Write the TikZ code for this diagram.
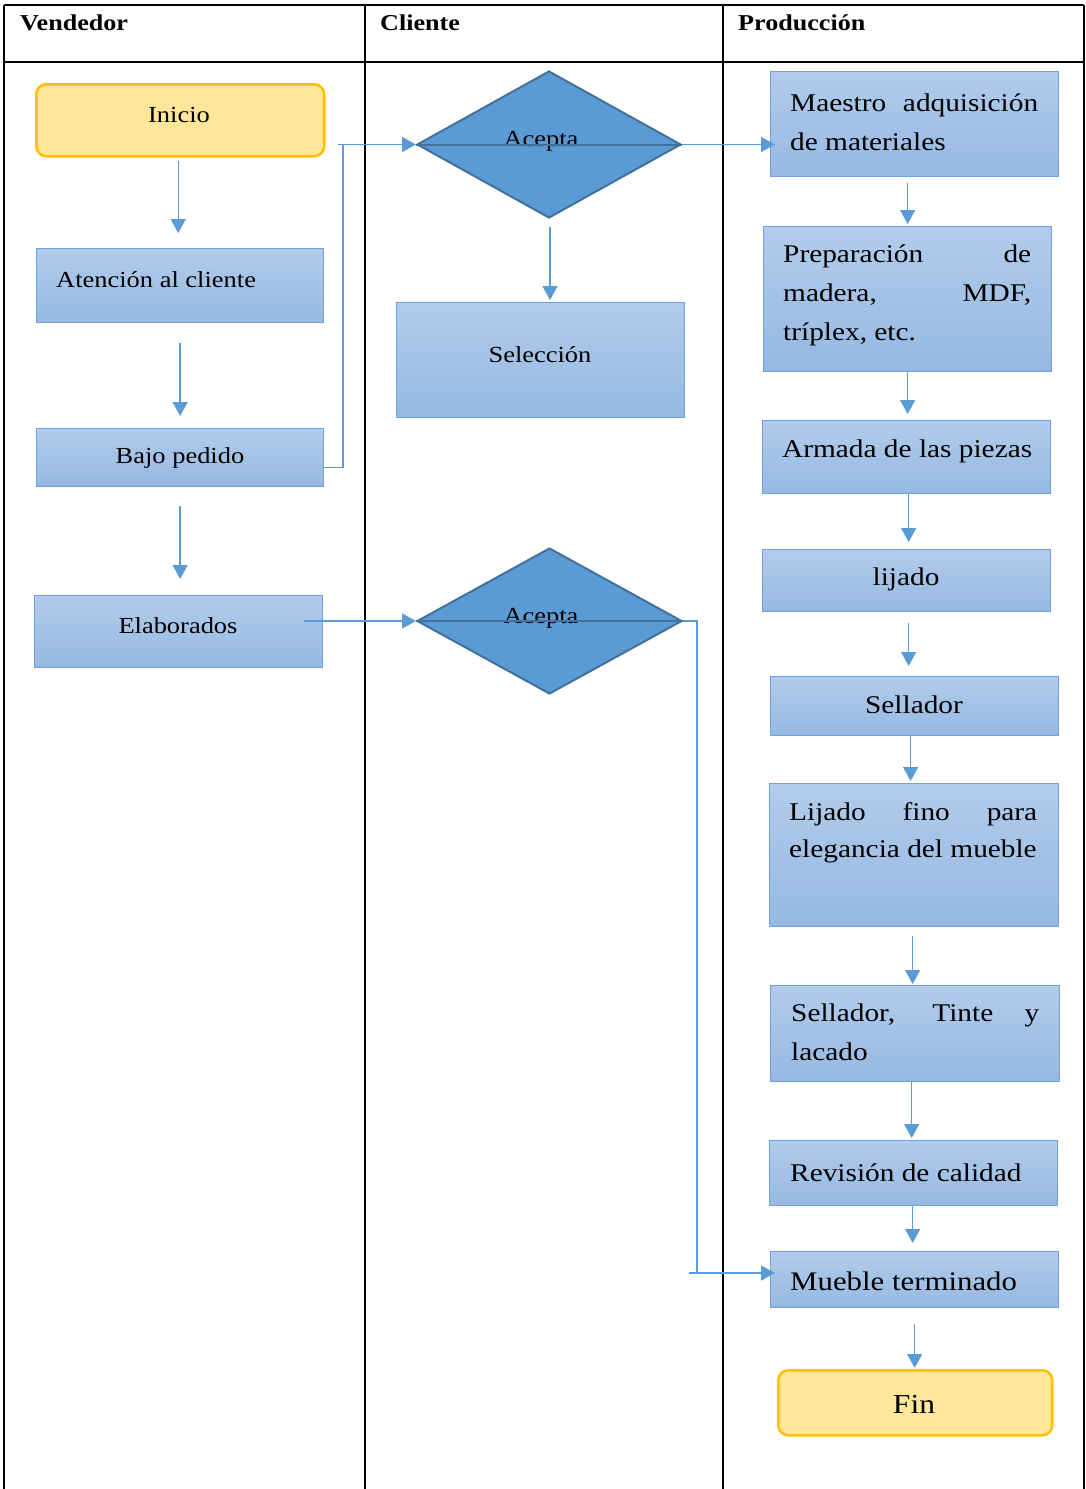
\documentclass[tikz,border=0pt]{standalone}
\usepackage{fontspec}
\setmainfont{Liberation Serif}[FakeStretch=1.15]
\usetikzlibrary{shapes.geometric,arrows.meta}

\definecolor{boxtop}{HTML}{B2CCEB}
\definecolor{boxbot}{HTML}{95B8E2}
\definecolor{boxline}{HTML}{6FA2DA}
\definecolor{decfill}{HTML}{5B9BD5}
\definecolor{decline}{HTML}{41719C}
\definecolor{termfill}{HTML}{FFE699}
\definecolor{termline}{HTML}{FFC000}
\definecolor{connc}{HTML}{5B9BD5}

\tikzset{
  pbox/.style={rectangle, draw=boxline, line width=1.3pt, top color=boxtop,
    bottom color=boxbot, anchor=north west, inner sep=0pt},
  term/.style={rectangle, rounded corners=10pt, draw=termline, fill=termfill,
    line width=2.5pt, anchor=north west, inner sep=0pt},
  dec/.style={diamond, draw=decline, fill=decfill, line width=2pt, inner sep=0pt},
  conn/.style={draw=connc, line width=1.5pt},
  flow/.style={conn, -{Triangle[length=14pt,width=15pt]}},
  lane/.style={line width=2pt, black},
  lt/.style={font=\fontsize{23}{34}\selectfont, inner sep=0pt},
  rt/.style={font=\fontsize{25.5}{39}\selectfont, inner sep=0pt},
  hd/.style={font=\bfseries\fontsize{22.7}{30}\selectfont, inner sep=0pt, anchor=base west},
}

\begin{document}
\begin{tikzpicture}[x=1pt, y=-1pt]
\useasboundingbox (0,0) rectangle (1086,1489);

% swimlane table
\draw[lane] (4,5) -- (1084,5);
\draw[lane] (4,62) -- (1084,62);
\draw[lane] (4,5) -- (4,1489);
\draw[lane] (365,5) -- (365,1489);
\draw[lane] (723,5) -- (723,1489);
\draw[lane] (1084,5) -- (1084,1489);
\node[hd] (hvend) at (20,30) {Vendedor};
\node[hd] (hcli) at (380,30) {Cliente};
\node[hd] (hprod) at (738,30) {Producción};

% Vendedor lane
\node[term, minimum width=288pt, minimum height=72pt] (inicio) at (35,83) {};
\node[lt, anchor=base] (tinicio) at (179,122) {Inicio};
\node[pbox, minimum width=287pt, minimum height=74pt] (atencion) at (36,248) {};
\node[lt, anchor=base west] (tatencion) at (56,287) {Atención al cliente};
\node[pbox, minimum width=287pt, minimum height=58pt] (bajo) at (36,428) {};
\node[lt, anchor=base] (tbajo) at (180,463) {Bajo pedido};
\node[pbox, minimum width=288pt, minimum height=72pt] (elab) at (34,595) {};
\node[lt, anchor=base] (telab) at (178,633) {Elaborados};

% Cliente lane
\node[dec, minimum width=264pt, minimum height=147pt] (dia1) at (549,144.5) {};
\node[lt, anchor=base] (tdia1) at (541,146) {Acepta};
\node[pbox, minimum width=288pt, minimum height=115pt] (selec) at (396,302) {};
\node[lt, anchor=base] (tselec) at (540,362) {Selección};
\node[dec, minimum width=265pt, minimum height=146pt] (dia2) at (549.5,621) {};
\node[lt, anchor=base] (tdia2) at (541,623) {Acepta};

% Produccion lane (multi-line texts are placed by the baseline of their last line)
\node[pbox, minimum width=288pt, minimum height=105pt] (maestro) at (770,71) {};
\node[rt, anchor=base west, align=left] (tmaestro) at (790,150.5)
  {\makebox[248pt][s]{Maestro adquisición}\\de materiales};
\node[pbox, minimum width=288pt, minimum height=145pt] (prep) at (763,226) {};
\node[rt, anchor=base west, align=left] (tprep) at (783,340.5)
  {\makebox[248pt][s]{Preparación de}\\\makebox[248pt][s]{madera, MDF,}\\tríplex, etc.};
\node[pbox, minimum width=288pt, minimum height=73pt] (armada) at (762,420) {};
\node[rt, anchor=base west] (tarmada) at (782,457) {Armada de las piezas};
\node[pbox, minimum width=288pt, minimum height=62pt] (lijado) at (762,549) {};
\node[rt, anchor=base] (tlijado) at (906,585) {lijado};
\node[pbox, minimum width=288pt, minimum height=59pt] (sellador) at (770,676) {};
\node[rt, anchor=base] (tsellador) at (914,713) {Sellador};
\node[pbox, minimum width=289pt, minimum height=143pt] (lijfino) at (769,783) {};
\node[rt, font=\fontsize{25.5}{37.5}\selectfont, anchor=base west, align=left] (tlijfino) at (789,857.5)
  {\makebox[248pt][s]{Lijado fino para}\\elegancia del mueble};
\node[pbox, minimum width=289pt, minimum height=96pt] (selltinte) at (770,985) {};
\node[rt, font=\fontsize{25.5}{38.5}\selectfont, anchor=base west, align=left] (tselltinte) at (791,1060)
  {\makebox[248pt][s]{Sellador, Tinte y}\\lacado};
\node[pbox, minimum width=288pt, minimum height=65pt] (revision) at (769,1140) {};
\node[rt, anchor=base west] (trevision) at (790,1181) {Revisión de calidad};
\node[pbox, minimum width=288pt, minimum height=56pt] (mueble) at (770,1251) {};
\node[rt, font=\fontsize{26.8}{39}\selectfont, anchor=base west] (tmueble) at (790,1290) {Mueble terminado};
\node[term, minimum width=274pt, minimum height=65pt] (fin) at (777,1369) {};
\node[rt, font=\fontsize{27.4}{39}\selectfont, anchor=base] (tfin) at (914,1413) {Fin};

% junction points of the elbow connectors
\coordinate (j1) at (343,144.5);
\coordinate (j2) at (697,1273);

% Vendedor flow
\draw[flow, shorten <=3pt, shorten >=15pt] ([xshift=-2pt]inicio.south) -- ([xshift=-2pt]inicio.south |- atencion.north);
\draw[flow, shorten <=20pt, shorten >=12pt] (atencion.south) -- (atencion.south |- bajo.north);
\draw[flow, shorten <=19pt, shorten >=16pt] (bajo.south) -- (bajo.south |- elab.north);
\draw[conn] ([yshift=-10pt]bajo.east) -| (j1);
\draw[flow] ([xshift=-5pt]j1) -- (dia1.west);
\draw[flow, shorten <=-2pt] ([xshift=-17pt]elab.east |- dia2.west) -- (dia2.west);

% Cliente flow
\draw[decline, line width=2pt] (dia1.west) -- (dia1.east);
\draw[decline, line width=2pt] (dia2.west) -- (dia2.east);
\draw[flow, shorten >=-5pt] (dia1.east) -- (dia1.east -| maestro.west);
\draw[flow, shorten <=8pt, shorten >=2pt] ([xshift=1pt]dia1.south) -- ([xshift=1pt]dia1.south |- selec.north);
\draw[conn] (dia2.east) -| (j2);
\draw[flow, shorten >=-5pt] ([xshift=-8pt]j2) -- (j2 -| mueble.west);

% Produccion flow
\draw[flow, shorten <=6pt, shorten >=2pt] (maestro.south -| prep.north) -- (prep.north);
\draw[flow, shorten >=6pt] (prep.south) -- (prep.south |- armada.north);
\draw[flow, shorten >=7pt] ([xshift=2pt]armada.south) -- ([xshift=2pt]armada.south |- lijado.north);
\draw[flow, shorten <=11pt, shorten >=10pt] ([xshift=2pt]lijado.south) -- ([xshift=2pt]lijado.south |- sellador.north);
\draw[flow, shorten >=2pt] ([xshift=-4pt]sellador.south) -- ([xshift=-4pt]sellador.south |- lijfino.north);
\draw[flow, shorten <=9pt, shorten >=1pt] ([xshift=-1.5pt]lijfino.south) -- ([xshift=-1.5pt]lijfino.south |- selltinte.north);
\draw[flow, shorten >=2pt] ([xshift=-3.5pt]selltinte.south) -- ([xshift=-3.5pt]selltinte.south |- revision.north);
\draw[flow, shorten >=8pt] ([xshift=-1pt]revision.south) -- ([xshift=-1pt]revision.south |- mueble.north);
\draw[flow, shorten <=16pt, shorten >=1pt] (mueble.south) -- (mueble.south |- fin.north);
\end{tikzpicture}
\end{document}
